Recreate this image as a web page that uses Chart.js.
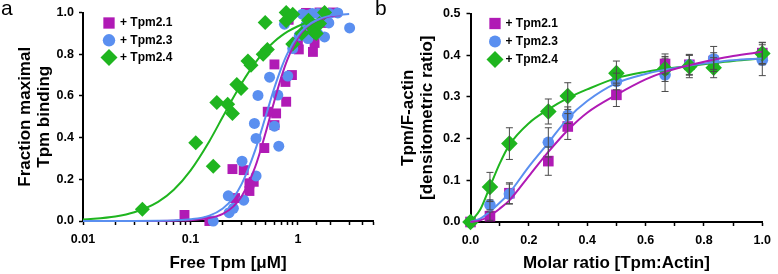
<!DOCTYPE html>
<html>
<head>
<meta charset="utf-8">
<script src="https://cdn.jsdelivr.net/npm/chart.js@4.4.0/dist/chart.umd.min.js"></script>
<style>
	html, body { margin: 0; padding: 0; background: #fff; }
	#wrap { position: relative; width: 778px; height: 274px; font-family: "Liberation Sans", Arial, sans-serif; }
	.panel { position: absolute; top: 0; height: 274px; }
	#panel-a { left: 0; width: 390px; }
	#panel-b { left: 390px; width: 388px; }
	.tag { position: absolute; top: -3px; font-size: 21px; line-height: 1; color: #000; }
</style>
</head>
<body>
<div id="wrap">
	<div class="panel" id="panel-a"><canvas id="chart-a"></canvas></div>
	<div class="panel" id="panel-b"><canvas id="chart-b"></canvas></div>
	<div class="tag" style="left:1px">a</div>
	<div class="tag" style="left:375px">b</div>
</div>
<script>
// ---- Panel a: fraction of maximal binding vs free Tpm (log axis)
const TPM21_FREE = [0.088, 0.15, 0.246, 0.313, 0.26, 0.354, 0.388, 0.354, 0.487, 0.524, 0.627, 0.605, 0.605, 0.766, 0.778, 0.88, 1.0, 1.02, 1.38, 1.43, 1.33, 0.82, 1.19, 1.59, 2.12, 1.77];
const TPM21_FRAC = [0.029, 0.0, 0.249, 0.244, 0.11, 0.181, 0.188, 0.144, 0.35, 0.524, 0.516, 0.46, 0.751, 0.667, 0.572, 0.70, 0.86, 0.823, 0.811, 0.854, 0.915, 0.965, 0.998, 1.0, 1.0, 0.95];

const TPM23_FREE = [0.163, 0.225, 0.229, 0.251, 0.302, 0.313, 0.394, 0.408, 0.408, 0.425, 0.545, 0.605, 0.65, 0.664, 0.75, 0.805, 0.895, 1.03, 1.1, 1.19, 1.24, 1.24, 1.36, 1.42, 1.53, 1.53, 1.77, 1.94, 1.97, 2.35, 3.03];
const TPM23_FRAC = [0.0, 0.121, 0.04, 0.061, 0.287, 0.10, 0.468, 0.396, 0.216, 0.602, 0.69, 0.455, 0.604, 0.359, 0.944, 0.695, 0.827, 0.89, 0.992, 0.94, 0.987, 0.875, 0.995, 0.93, 0.899, 0.995, 0.883, 0.95, 0.995, 0.998, 0.926];

const TPM24_FREE = [0.0357, 0.112, 0.163, 0.176, 0.222, 0.246, 0.27, 0.296, 0.343, 0.366, 0.475, 0.52, 0.496, 0.778, 0.778, 0.895, 0.895, 1.087, 1.255, 1.35, 1.41, 1.48, 1.59, 1.77];
const TPM24_FRAC = [0.056, 0.375, 0.263, 0.568, 0.56, 0.516, 0.655, 0.636, 0.767, 0.747, 0.8, 0.822, 0.952, 1.0, 0.96, 0.992, 0.849, 0.899, 0.963, 0.931, 0.907, 0.899, 0.947, 1.0];

// fitted curves
const FIT_FREE = [0.01, 0.02, 0.03, 0.05, 0.07, 0.1, 0.15, 0.2, 0.25, 0.3, 0.4, 0.5, 0.6, 0.7, 0.8, 1, 1.2, 1.5, 2, 2.5, 3];
const FIT21_FRAC = [0, 0, 0.0001, 0.0004, 0.0015, 0.004, 0.014, 0.034, 0.069, 0.119, 0.259, 0.422, 0.571, 0.689, 0.775, 0.878, 0.929, 0.962, 0.982, 0.988];
const FIT23_FRAC = [0, 0, 0, 0.001, 0.003, 0.008, 0.026, 0.06, 0.111, 0.178, 0.339, 0.5, 0.634, 0.733, 0.804, 0.889, 0.933, 0.964, 0.985, 0.99, 0.993];
const FIT24_FRAC = [0.007, 0.022, 0.042, 0.092, 0.15, 0.242, 0.383, 0.5, 0.591, 0.661, 0.758, 0.82, 0.86, 0.888, 0.908, 0.934, 0.951, 0.965];

// ---- Panel b: densitometric ratio vs molar ratio
const MOLAR_RATIO = [0, 0.0667, 0.1333, 0.2667, 0.3333, 0.5, 0.6667, 0.75, 0.8333, 1.0];
const TPM21_RATIO = [0, 0.014, 0.069, 0.146, 0.229, 0.305, 0.379, 0.377, 0.386, 0.405];
const TPM21_ERR = [0, 0.01, 0.025, 0.034, 0.031, 0.028, 0.024, 0.023, 0.02, 0.025];
const TPM23_RATIO = [0, 0.041, 0.067, 0.191, 0.256, 0.337, 0.353, 0.377, 0.391, 0.388];
const TPM23_ERR = [0, 0.012, 0.024, 0.035, 0.02, 0.02, 0.04, 0.025, 0.03, 0.037];
const TPM24_RATIO = [0, 0.084, 0.188, 0.265, 0.302, 0.357, 0.367, 0.373, 0.37, 0.404];
const TPM24_ERR = [0, 0.035, 0.038, 0.03, 0.032, 0.029, 0.03, 0.027, 0.024, 0.027];

const FIT_RATIO = [0, 0.0333, 0.0667, 0.1, 0.1333, 0.2, 0.2667, 0.3333, 0.4, 0.5, 0.6, 0.6667, 0.75, 0.8333, 0.9, 1.0];
const FIT21_RATIO = [0, 0.004, 0.015, 0.032, 0.052, 0.11, 0.168, 0.22, 0.262, 0.305, 0.342, 0.36, 0.376, 0.389, 0.398, 0.408];
const FIT23_RATIO = [0, 0.008, 0.025, 0.046, 0.07, 0.133, 0.19, 0.248, 0.29, 0.333, 0.355, 0.365, 0.375, 0.383, 0.388, 0.392];
const FIT24_RATIO = [0, 0.03, 0.085, 0.14, 0.185, 0.237, 0.27, 0.297, 0.318, 0.345, 0.36, 0.367, 0.374, 0.381, 0.386, 0.392];

const COLORS = {
	TPM21: "#b01ab5",
	TPM23: "#5a8ff0",
	TPM24: "#1fb51f",
	ERR: "#4a4a4a",
};

const TICK_FONT = { size: 12.5, weight: "bold" };
const TITLE_FONT = { size: 17, weight: "bold", lineHeight: 1.1 };

Chart.defaults.font.family = '"Liberation Sans", Arial, sans-serif';
Chart.defaults.color = "#000";

const toPoints = (xs, ys) => ys.map((y, i) => ({ x: xs[i], y }));

// legend drawn inside the plot area, markers copied from the datasets
const markerLegend = {
	id: "markerLegend",
	afterDatasetsDraw(chart, args, opts) {
		const { ctx, chartArea } = chart;
		const x = chartArea.left + opts.left;
		let y = chartArea.top + opts.top;
		ctx.save();
		ctx.font = "bold 12px 'Liberation Sans', Arial, sans-serif";
		ctx.textBaseline = "middle";
		chart.data.datasets.forEach((ds) => {
			if (ds.isFit) return;
			ctx.fillStyle = ds.backgroundColor;
			Chart.helpers.drawPoint(ctx, { pointStyle: ds.pointStyle, radius: ds.legendRadius, borderWidth: 0, rotation: 0 }, x, y);
			ctx.fillStyle = "#000";
			ctx.fillText(ds.label, x + opts.textGap, y);
			y += opts.rowHeight;
		});
		ctx.restore();
	},
};

const errorBars = {
	id: "errorBars",
	afterDatasetsDraw(chart, args, opts) {
		const { ctx, scales } = chart;
		ctx.save();
		ctx.strokeStyle = opts.color;
		ctx.lineWidth = opts.width;
		chart.data.datasets.forEach((ds) => {
			if (!ds.errors) return;
			ds.data.forEach((pt, i) => {
				const err = ds.errors[i];
				if (!err) return;
				const px = scales.x.getPixelForValue(pt.x);
				const top = scales.y.getPixelForValue(pt.y + err);
				const bot = scales.y.getPixelForValue(pt.y - err);
				ctx.beginPath();
				ctx.moveTo(px, top);
				ctx.lineTo(px, bot);
				ctx.moveTo(px - opts.cap, top);
				ctx.lineTo(px + opts.cap, top);
				ctx.moveTo(px - opts.cap, bot);
				ctx.lineTo(px + opts.cap, bot);
				ctx.stroke();
			});
		});
		ctx.restore();
	},
};

const AXIS_BORDER = { color: "#000", width: 2 };
const AXIS_GRID = { drawOnChartArea: false, drawTicks: true, tickLength: 4, tickColor: "#000", tickWidth: 1.5 };

const markers = (style, color, radius, legendRadius, order) => ({
	pointStyle: style,
	backgroundColor: color,
	borderColor: color,
	borderWidth: 0,
	pointRadius: radius,
	legendRadius,
	order,
	clip: false,
});

const fitLine = (data, color) => ({
	isFit: true,
	data,
	showLine: true,
	borderColor: color,
	borderWidth: 2,
	pointRadius: 0,
	cubicInterpolationMode: "monotone",
	order: 0,
	clip: false,
});

const isDecade = (v) => Math.abs(Math.log10(v) - Math.round(Math.log10(v))) < 1e-6;

const CHART_A = {
	type: "scatter",
	data: {
		datasets: [
			{ label: "+ Tpm2.1", data: toPoints(TPM21_FREE, TPM21_FRAC), ...markers("rect", COLORS.TPM21, 7, 8, 3) },
			{ label: "+ Tpm2.3", data: toPoints(TPM23_FREE, TPM23_FRAC), ...markers("circle", COLORS.TPM23, 5.5, 6.2, 2) },
			{ label: "+ Tpm2.4", data: toPoints(TPM24_FREE, TPM24_FRAC), ...markers("rectRot", COLORS.TPM24, 7.5, 8.5, 1) },
			fitLine(toPoints(FIT_FREE, FIT23_FRAC), COLORS.TPM23),
			fitLine(toPoints(FIT_FREE, FIT21_FRAC), COLORS.TPM21),
			fitLine(toPoints(FIT_FREE, FIT24_FRAC), COLORS.TPM24),
		],
	},
	options: {
		responsive: true,
		maintainAspectRatio: false,
		animation: false,
		events: [],
		layout: { padding: { left: 0, top: 12, right: 17, bottom: 0 } },
		scales: {
			x: {
				type: "logarithmic",
				min: 0.01,
				max: 5,
				border: AXIS_BORDER,
				grid: AXIS_GRID,
				ticks: {
					font: TICK_FONT,
					padding: 7,
					autoSkip: false,
					maxRotation: 0,
					callback: (v) => (isDecade(v) ? String(v) : ""),
				},
				title: { display: true, text: "Free Tpm [μM]", font: TITLE_FONT, padding: { top: 0, bottom: 1 } },
				afterFit: (scale) => {
					scale.height = 53;
				},
			},
			y: {
				min: 0,
				max: 1,
				border: AXIS_BORDER,
				grid: AXIS_GRID,
				ticks: { font: TICK_FONT, padding: 5, stepSize: 0.2, callback: (v) => v.toFixed(1) },
				title: { display: true, text: ["Fraction maximal", "Tpm binding"], font: TITLE_FONT, padding: { top: 16, bottom: 0 } },
				afterFit: (scale) => {
					scale.width = 83;
				},
			},
		},
		plugins: {
			legend: { display: false },
			tooltip: { enabled: false },
			markerLegend: { left: 26, top: 10.5, rowHeight: 17.3, textGap: 11 },
		},
	},
	plugins: [markerLegend],
};

const CHART_B = {
	type: "scatter",
	data: {
		datasets: [
			{ label: "+ Tpm2.1", data: toPoints(MOLAR_RATIO, TPM21_RATIO), errors: TPM21_ERR, ...markers("rect", COLORS.TPM21, 7.5, 8, 3) },
			{ label: "+ Tpm2.3", data: toPoints(MOLAR_RATIO, TPM23_RATIO), errors: TPM23_ERR, ...markers("circle", COLORS.TPM23, 5.8, 6, 2) },
			{ label: "+ Tpm2.4", data: toPoints(MOLAR_RATIO, TPM24_RATIO), errors: TPM24_ERR, ...markers("rectRot", COLORS.TPM24, 8.3, 8.5, 1) },
			fitLine(toPoints(FIT_RATIO, FIT21_RATIO), COLORS.TPM21),
			fitLine(toPoints(FIT_RATIO, FIT23_RATIO), COLORS.TPM23),
			fitLine(toPoints(FIT_RATIO, FIT24_RATIO), COLORS.TPM24),
		],
	},
	options: {
		responsive: true,
		maintainAspectRatio: false,
		animation: false,
		events: [],
		layout: { padding: { left: 0, top: 7.5, right: 10, bottom: 0 } },
		scales: {
			x: {
				min: 0,
				max: 1,
				border: AXIS_BORDER,
				grid: AXIS_GRID,
				ticks: {
					font: TICK_FONT,
					padding: 7,
					stepSize: 0.1,
					autoSkip: false,
					maxRotation: 0,
					callback: (v, i) => (i % 2 === 0 ? v.toFixed(1) : ""),
				},
				title: { display: true, text: "Molar ratio [Tpm:Actin]", font: TITLE_FONT, padding: { top: 0, bottom: 1 } },
				afterFit: (scale) => {
					scale.height = 52;
				},
			},
			y: {
				min: 0,
				max: 0.5,
				border: AXIS_BORDER,
				grid: AXIS_GRID,
				ticks: { font: TICK_FONT, padding: 6, stepSize: 0.1, callback: (v) => v.toFixed(1) },
				title: { display: true, text: ["Tpm/F-actin", "[densitometric ratio]"], font: TITLE_FONT, padding: { top: 9, bottom: 0 } },
				afterFit: (scale) => {
					scale.width = 80.5;
				},
			},
		},
		plugins: {
			legend: { display: false },
			tooltip: { enabled: false },
			markerLegend: { left: 24.5, top: 10, rowHeight: 18, textGap: 10.5 },
			errorBars: { color: COLORS.ERR, width: 1, cap: 3.5 },
		},
	},
	plugins: [errorBars, markerLegend],
};

new Chart(document.getElementById("chart-a"), CHART_A);
new Chart(document.getElementById("chart-b"), CHART_B);
</script>
</body>
</html>
